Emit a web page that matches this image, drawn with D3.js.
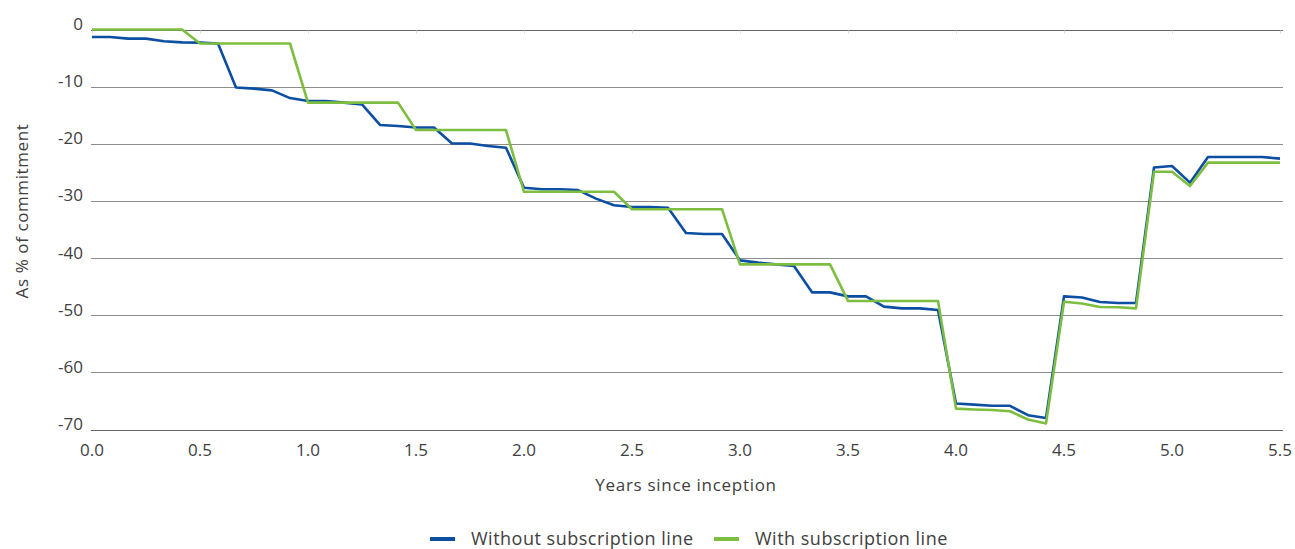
<!DOCTYPE html>
<html>
<head>
<meta charset="utf-8">
<script src="https://cdn.jsdelivr.net/npm/d3@7"></script>
<style>
  body { margin: 0; background: #fff; }
  text { font-family: "Open Sans", sans-serif; fill: #404040; }
</style>
</head>
<body>
<svg width="1295" height="549"></svg>
<script>
// monthly values, as % of commitment (month 0 .. month 66)
const withoutLine = [
  -1.3, -1.3, -1.6, -1.6, -2.05, -2.25, -2.3, -2.45, -10.15, -10.35, -10.65, -12.0,
  -12.5, -12.5, -12.8, -13.1, -16.7, -16.9, -17.15, -17.15, -19.95, -19.95, -20.4, -20.7,
  -27.7, -27.95, -27.95, -28.1, -29.6, -30.75, -31.05, -31.05, -31.2, -35.6, -35.8, -35.8,
  -40.4, -40.8, -41.1, -41.4, -46.0, -46.0, -46.7, -46.7, -48.5, -48.8, -48.8, -49.1,
  -65.45, -65.65, -65.85, -65.85, -67.5, -68.0, -46.7, -46.9, -47.7, -47.85, -47.85, -24.15,
  -23.9, -26.8, -22.3, -22.3, -22.3, -22.3, -22.6
];
const withLine = [
  0, 0, 0, 0, 0, 0, -2.45, -2.45, -2.45, -2.45, -2.45, -2.45,
  -12.8, -12.8, -12.8, -12.8, -12.8, -12.8, -17.6, -17.6, -17.6, -17.6, -17.6, -17.6,
  -28.4, -28.4, -28.4, -28.4, -28.4, -28.4, -31.45, -31.45, -31.45, -31.45, -31.45, -31.45,
  -41.1, -41.1, -41.1, -41.1, -41.1, -41.1, -47.5, -47.5, -47.5, -47.5, -47.5, -47.5,
  -66.35, -66.5, -66.6, -66.8, -68.25, -68.95, -47.65, -47.95, -48.55, -48.6, -48.8, -24.9,
  -24.9, -27.4, -23.3, -23.3, -23.3, -23.3, -23.3
];
const xTicks = [0, 0.5, 1, 1.5, 2, 2.5, 3, 3.5, 4, 4.5, 5, 5.5];
const yTicks = [0, -10, -20, -30, -40, -50, -60, -70];
const seriesNames = ['Without subscription line', 'With subscription line'];
const colors = ['#0b4ea2', '#7dbe41'];

const svg = d3.select('svg');
const margin = {top: 29.5, left: 92, right: 15, bottom: 120};
const width = +svg.attr('width');
const height = +svg.attr('height');

const x = d3.scaleLinear().domain([0, 5.5]).range([margin.left, 1280]);
const y = d3.scaleLinear().domain([0, -70]).range([margin.top, 429.5]);

// gridlines
svg.append('g')
  .selectAll('line')
  .data(yTicks)
  .join('line')
    .attr('x1', 91).attr('x2', 1283)
    .attr('y1', d => Math.round(y(d)) + 0.5)
    .attr('y2', d => Math.round(y(d)) + 0.5)
    .attr('stroke', d => (d === 0 || d === -70) ? '#666' : '#8c8c8c')
    .attr('stroke-width', 1);

// little tick marks hanging off the zero line
svg.append('g')
  .selectAll('line')
  .data(xTicks)
  .join('line')
    .attr('x1', d => Math.round(x(d)) + 0.5)
    .attr('x2', d => Math.round(x(d)) + 0.5)
    .attr('y1', y(0) + 1).attr('y2', y(0) + 4)
    .attr('stroke', '#d9d9d9');

// y tick labels, sitting on their gridline
svg.append('g')
  .selectAll('text')
  .data(yTicks)
  .join('text')
    .attr('x', 83)
    .attr('y', d => y(d) + 0.5)
    .attr('text-anchor', 'end')
    .style('font-size', '17px')
    .text(d => d);

// x tick labels
svg.append('g')
  .selectAll('text')
  .data(xTicks)
  .join('text')
    .attr('x', d => x(d))
    .attr('y', 456)
    .attr('text-anchor', 'middle')
    .style('font-size', '17px')
    .text(d => d3.format('.1f')(d));

// axis titles
svg.append('text')
  .attr('x', x(2.75))
  .attr('y', 491)
  .attr('text-anchor', 'middle')
  .style('font-size', '17px')
  .style('letter-spacing', '0.7px')
  .text('Years since inception');

svg.append('text')
  .attr('transform', `translate(28,211)rotate(-90)`)
  .attr('text-anchor', 'middle')
  .style('font-size', '17px')
  .style('letter-spacing', '0.6px')
  .text('As % of commitment');

// lines
const line = d3.line()
  .x((d, i) => x(i / 12))
  .y(d => y(d));

[withoutLine, withLine].forEach((s, i) => {
  svg.append('path')
    .datum(s)
    .attr('fill', 'none')
    .attr('stroke', colors[i])
    .attr('stroke-width', 2.6)
    .attr('stroke-linejoin', 'round')
    .attr('d', line);
});

// legend
const legendX = [430, 714];
const legend = svg.append('g')
  .selectAll('g')
  .data(seriesNames)
  .join('g')
    .attr('transform', (d, i) => `translate(${legendX[i]},539)`);

legend.append('rect')
  .attr('x', 0).attr('y', -2)
  .attr('width', 25).attr('height', 4)
  .attr('fill', (d, i) => colors[i]);

legend.append('text')
  .attr('x', 41)
  .attr('y', 6)
  .style('font-size', '18px')
  .style('letter-spacing', '0.5px')
  .text(d => d);
</script>
</body>
</html>
